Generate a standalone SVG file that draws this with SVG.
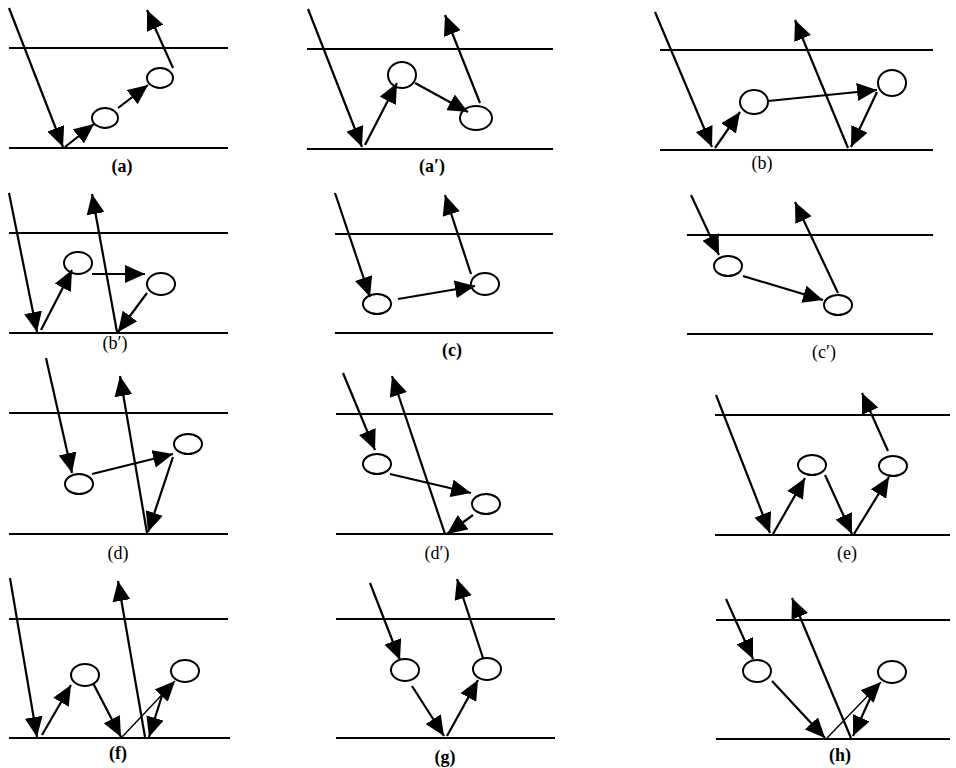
<svg xmlns="http://www.w3.org/2000/svg" width="956" height="768" viewBox="0 0 956 768">
<style>
.bg{fill:#fff}
.layer{stroke:#000;stroke-width:2;fill:none}
.ray{stroke:#000;stroke-width:2.2;fill:none;marker-end:url(#ah)}
.thin{stroke:#000;stroke-width:1.4;fill:none;marker-end:url(#ah)}
.node{fill:#fff;stroke:#000;stroke-width:2}
.lbl{font-family:"Liberation Serif","Times New Roman",serif;font-size:18px;fill:#000;text-anchor:middle}
.b{font-weight:bold}
</style>
<defs>
<marker id="ah" viewBox="0 0 20 18" refX="20" refY="9" markerWidth="20" markerHeight="18" markerUnits="userSpaceOnUse" orient="auto">
<path d="M0,0 L20,9 L0,18 z" fill="#000"/>
</marker>
</defs>
<rect class="bg" x="0" y="0" width="956" height="768"/>

<!-- (a) -->
<g id="panel-a">
<line class="layer" x1="9" y1="48" x2="228" y2="48"/>
<line class="layer" x1="9" y1="148" x2="228" y2="148"/>
<g id="a-n1"><ellipse class="node" cx="105" cy="118" rx="13" ry="10"/></g>
<g id="a-n2"><ellipse class="node" cx="160" cy="78" rx="13" ry="10"/></g>
<g id="a-conn">
<line class="ray" x1="9" y1="8" x2="63" y2="147"/>
<line class="ray" x1="65" y1="147" x2="94" y2="124"/>
<line class="ray" x1="118" y1="108" x2="148" y2="85"/>
<line class="ray" x1="173" y1="68" x2="147" y2="10"/>
</g>
<text class="lbl b" x="122" y="172">(a)</text>
</g>

<!-- (a') -->
<g id="panel-a-prime">
<line class="layer" x1="307" y1="49" x2="553" y2="49"/>
<line class="layer" x1="307" y1="149" x2="553" y2="149"/>
<g id="ap-n1"><ellipse class="node" cx="402" cy="75" rx="14" ry="13"/></g>
<g id="ap-n2"><ellipse class="node" cx="476" cy="118" rx="16" ry="12"/></g>
<g id="ap-conn">
<line class="ray" x1="308" y1="9" x2="362" y2="147"/>
<line class="ray" x1="365" y1="145" x2="397" y2="83"/>
<line class="ray" x1="415" y1="83" x2="468" y2="112"/>
<line class="ray" x1="480" y1="103" x2="445" y2="15"/>
</g>
<text class="lbl b" x="432" y="172">(a′)</text>
</g>

<!-- (b) -->
<g id="panel-b">
<line class="layer" x1="660" y1="50" x2="933" y2="50"/>
<line class="layer" x1="660" y1="150" x2="933" y2="150"/>
<g id="b-n1"><ellipse class="node" cx="754" cy="102" rx="14" ry="12"/></g>
<g id="b-n2"><ellipse class="node" cx="892" cy="83" rx="14" ry="13"/></g>
<g id="b-conn">
<line class="ray" x1="655" y1="12" x2="712" y2="147"/>
<line class="ray" x1="715" y1="148" x2="740" y2="112"/>
<line class="ray" x1="768" y1="101" x2="877" y2="90"/>
<line class="ray" x1="877" y1="92" x2="851" y2="147"/>
<line class="ray" x1="848" y1="148" x2="795" y2="20"/>
</g>
<text class="lbl" x="762" y="169">(b)</text>
</g>

<!-- (b') -->
<g id="panel-b-prime">
<line class="layer" x1="9" y1="233" x2="228" y2="233"/>
<line class="layer" x1="9" y1="333" x2="228" y2="333"/>
<g id="bp-n1"><ellipse class="node" cx="78" cy="263" rx="14" ry="11"/></g>
<g id="bp-n2"><ellipse class="node" cx="161" cy="284" rx="14" ry="11"/></g>
<g id="bp-conn">
<line class="ray" x1="9" y1="193" x2="37" y2="332"/>
<line class="ray" x1="41" y1="330" x2="72" y2="270"/>
<line class="ray" x1="92" y1="274" x2="145" y2="274"/>
<line class="ray" x1="147" y1="293" x2="118" y2="332"/>
<line class="ray" x1="117" y1="332" x2="92" y2="194"/>
</g>
<text class="lbl" x="115" y="349">(b′)</text>
</g>

<!-- (c) -->
<g id="panel-c">
<line class="layer" x1="335" y1="234" x2="553" y2="234"/>
<line class="layer" x1="335" y1="333" x2="553" y2="333"/>
<g id="c-n1"><ellipse class="node" cx="377" cy="304" rx="14" ry="10"/></g>
<g id="c-n2"><ellipse class="node" cx="485" cy="284" rx="14" ry="11"/></g>
<g id="c-conn">
<line class="ray" x1="335" y1="193" x2="370" y2="297"/>
<line class="ray" x1="398" y1="299" x2="475" y2="286"/>
<line class="ray" x1="471" y1="274" x2="445" y2="195"/>
</g>
<text class="lbl b" x="452" y="356">(c)</text>
</g>

<!-- (c') -->
<g id="panel-c-prime">
<line class="layer" x1="687" y1="235" x2="933" y2="235"/>
<line class="layer" x1="687" y1="334" x2="933" y2="334"/>
<g id="cp-n1"><ellipse class="node" cx="728" cy="266" rx="14" ry="10"/></g>
<g id="cp-n2"><ellipse class="node" cx="838" cy="305" rx="14" ry="10"/></g>
<g id="cp-conn">
<line class="ray" x1="691" y1="195" x2="719" y2="255"/>
<line class="ray" x1="743" y1="276" x2="823" y2="300"/>
<line class="ray" x1="838" y1="293" x2="795" y2="202"/>
</g>
<text class="lbl" x="824" y="358">(c′)</text>
</g>

<!-- (d) -->
<g id="panel-d">
<line class="layer" x1="9" y1="413" x2="228" y2="413"/>
<line class="layer" x1="9" y1="534" x2="228" y2="534"/>
<g id="d-n1"><ellipse class="node" cx="79" cy="484" rx="14" ry="10"/></g>
<g id="d-n2"><ellipse class="node" cx="188" cy="444" rx="14" ry="10"/></g>
<g id="d-conn">
<line class="ray" x1="46" y1="358" x2="72" y2="473"/>
<line class="ray" x1="92" y1="474" x2="173" y2="454"/>
<line class="ray" x1="173" y1="457" x2="148" y2="532"/>
<line class="ray" x1="147" y1="533" x2="120" y2="376"/>
</g>
<text class="lbl" x="118" y="559">(d)</text>
</g>

<!-- (d') -->
<g id="panel-d-prime">
<line class="layer" x1="336" y1="414" x2="553" y2="414"/>
<line class="layer" x1="336" y1="534" x2="553" y2="534"/>
<g id="dp-n1"><ellipse class="node" cx="377" cy="464" rx="14" ry="10"/></g>
<g id="dp-n2"><ellipse class="node" cx="486" cy="504" rx="14" ry="10"/></g>
<g id="dp-conn">
<line class="ray" x1="343" y1="373" x2="375" y2="450"/>
<line class="ray" x1="390" y1="474" x2="471" y2="493"/>
<line class="ray" x1="473" y1="515" x2="447" y2="534"/>
<line class="ray" x1="445" y1="534" x2="392" y2="376"/>
</g>
<text class="lbl" x="437" y="559">(d′)</text>
</g>

<!-- (e) -->
<g id="panel-e">
<line class="layer" x1="715" y1="415" x2="950" y2="415"/>
<line class="layer" x1="715" y1="535" x2="950" y2="535"/>
<g id="e-n1"><ellipse class="node" cx="812" cy="465" rx="14" ry="10"/></g>
<g id="e-n2"><ellipse class="node" cx="893" cy="466" rx="14" ry="10"/></g>
<g id="e-conn">
<line class="ray" x1="716" y1="395" x2="770" y2="533"/>
<line class="ray" x1="773" y1="534" x2="805" y2="478"/>
<line class="ray" x1="825" y1="475" x2="852" y2="534"/>
<line class="ray" x1="854" y1="534" x2="889" y2="477"/>
<line class="ray" x1="888" y1="451" x2="862" y2="393"/>
</g>
<text class="lbl" x="847" y="559">(e)</text>
</g>

<!-- (f) -->
<g id="panel-f">
<line class="layer" x1="9" y1="619" x2="228" y2="619"/>
<line class="layer" x1="9" y1="738" x2="230" y2="738"/>
<g id="f-n1"><ellipse class="node" cx="85" cy="675" rx="14" ry="11"/></g>
<g id="f-n2"><ellipse class="node" cx="185" cy="671" rx="14" ry="11"/></g>
<g id="f-conn">
<line class="ray" x1="10" y1="578" x2="37" y2="737"/>
<line class="ray" x1="42" y1="735" x2="71" y2="685"/>
<line class="ray" x1="93" y1="683" x2="121" y2="737"/>
<line class="thin" x1="122" y1="737" x2="175" y2="681"/>
<line class="ray" x1="165" y1="686" x2="149" y2="737"/>
<line class="ray" x1="145" y1="737" x2="118" y2="581"/>
</g>
<text class="lbl b" x="118" y="759">(f)</text>
</g>

<!-- (g) -->
<g id="panel-g">
<line class="layer" x1="336" y1="619" x2="555" y2="619"/>
<line class="layer" x1="336" y1="738" x2="555" y2="738"/>
<g id="g-n1"><ellipse class="node" cx="405" cy="670" rx="14" ry="11"/></g>
<g id="g-n2"><ellipse class="node" cx="487" cy="669" rx="14" ry="11"/></g>
<g id="g-conn">
<line class="ray" x1="370" y1="583" x2="400" y2="660"/>
<line class="ray" x1="412" y1="686" x2="444" y2="736"/>
<line class="ray" x1="447" y1="736" x2="478" y2="680"/>
<line class="ray" x1="483" y1="658" x2="457" y2="579"/>
</g>
<text class="lbl b" x="445" y="763">(g)</text>
</g>

<!-- (h) -->
<g id="panel-h">
<line class="layer" x1="716" y1="620" x2="950" y2="620"/>
<line class="layer" x1="716" y1="739" x2="950" y2="739"/>
<g id="h-n1"><ellipse class="node" cx="757" cy="671" rx="14" ry="11"/></g>
<g id="h-n2"><ellipse class="node" cx="892" cy="672" rx="14" ry="11"/></g>
<g id="h-conn">
<line class="ray" x1="726" y1="599" x2="753" y2="659"/>
<line class="ray" x1="772" y1="681" x2="825" y2="738"/>
<line class="thin" x1="827" y1="738" x2="881" y2="682"/>
<line class="ray" x1="873" y1="692" x2="853" y2="736"/>
<line class="ray" x1="851" y1="738" x2="792" y2="598"/>
</g>
<text class="lbl b" x="840" y="761">(h)</text>
</g>
</svg>
